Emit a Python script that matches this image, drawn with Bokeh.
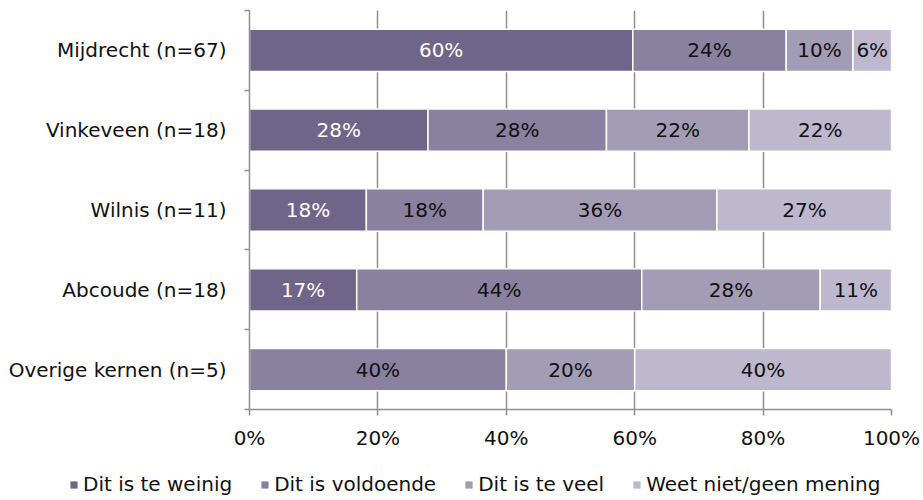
from bokeh.plotting import figure
from bokeh.layouts import column
from bokeh.models import ColumnDataSource, FixedTicker, Range1d, Legend, LegendItem
from bokeh.core.properties import value
from bokeh.embed import file_html
from bokeh.resources import INLINE

categories = ["Mijdrecht (n=67)", "Vinkeveen (n=18)", "Wilnis (n=11)", "Abcoude (n=18)", "Overige kernen (n=5)"]
series = ["Dit is te weinig", "Dit is voldoende", "Dit is te veel", "Weet niet/geen mening"]
te_weinig = [59.7, 27.8, 18.2, 16.7, 0.0]
voldoende = [23.9, 27.8, 18.2, 44.4, 40.0]
te_veel = [10.4, 22.2, 36.4, 27.8, 20.0]
weet_niet = [6.0, 22.2, 27.3, 11.1, 40.0]
x_ticks = [0, 20, 40, 60, 80, 100]
x_tick_labels = ["0%", "20%", "40%", "60%", "80%", "100%"]

colors = ["#6F6589", "#8A80A0", "#A29DB5", "#BDB8CD"]
label_colors = ["#FFFFFF", "#111111", "#111111", "#111111"]
FONT = "DejaVu Sans"
FS = "20px"
GRAY = "#8F8F8F"

n = len(categories)
ypos = [n - 0.5 - i for i in range(n)]
values = [te_weinig, voldoende, te_veel, weet_niet]
keys = ["s0", "s1", "s2", "s3"]

data = {"y": ypos}
for k, v in zip(keys, values):
    data[k] = v
source = ColumnDataSource(data)

p = figure(width=923, height=460, output_backend="svg", toolbar_location=None,
           x_range=Range1d(0, 100), y_range=Range1d(0, n),
           min_border_left=249, min_border_right=32, min_border_top=10, min_border_bottom=51)
p.outline_line_color = None
p.background_fill_color = "white"

renderers = p.hbar_stack(keys, y="y", height=0.53, source=source, color=colors,
                         line_color="white", line_width=1.5)

# labels
lx, ly, lt, lc = [], [], [], []
for i in range(n):
    left = 0.0
    for s in range(4):
        v = values[s][i]
        if v > 0:
            lx.append(left + v / 2)
            ly.append(ypos[i])
            lt.append(f"{round(v)}%")
            lc.append(label_colors[s])
        left += v
lsrc = ColumnDataSource(dict(x=lx, y=ly, t=lt, c=lc))
p.text(x="x", y="y", text="t", text_color="c", source=lsrc, text_align="center",
       text_baseline="middle", text_font=value(FONT), text_font_size=FS)

# x axis
p.xaxis.ticker = FixedTicker(ticks=x_ticks)
p.xaxis.major_label_overrides = {t: l for t, l in zip(x_ticks, x_tick_labels)}
p.xaxis.axis_line_color = GRAY
p.xaxis.axis_line_width = 1.5
p.xaxis.major_tick_line_color = GRAY
p.xaxis.major_tick_line_width = 1.5
p.xaxis.major_tick_out = 6
p.xaxis.major_tick_in = 0
p.xaxis.minor_tick_line_color = None
p.xaxis.major_label_standoff = 10
p.xaxis.major_label_text_font = FONT
p.xaxis.major_label_text_font_size = FS
p.xaxis.major_label_text_color = "#111111"

# y axis
p.yaxis.ticker = FixedTicker(ticks=ypos, minor_ticks=list(range(n + 1)))
p.yaxis.major_label_overrides = {y: c for y, c in zip(ypos, categories)}
p.yaxis.axis_line_color = GRAY
p.yaxis.axis_line_width = 1.5
p.yaxis.major_tick_line_color = None
p.yaxis.major_tick_out = 0
p.yaxis.major_tick_in = 0
p.yaxis.minor_tick_line_color = GRAY
p.yaxis.minor_tick_line_width = 1.5
p.yaxis.minor_tick_out = 5
p.yaxis.minor_tick_in = 0
p.yaxis.major_label_standoff = 18
p.yaxis.major_label_text_font = FONT
p.yaxis.major_label_text_font_size = FS
p.yaxis.major_label_text_color = "#111111"

p.xgrid.grid_line_color = GRAY
p.xgrid.grid_line_width = 1.5
p.ygrid.grid_line_color = None

# legend strip below the chart
p2 = figure(width=923, height=40, output_backend="svg", toolbar_location=None,
            x_range=Range1d(0, 1), y_range=Range1d(0, 1),
            x_axis_location=None, y_axis_location=None,
            min_border_left=0, min_border_right=0, min_border_top=0, min_border_bottom=0)
try:
    p2.frame_align = False
except Exception:
    pass
p2.outline_line_color = None
p2.xgrid.grid_line_color = None
p2.ygrid.grid_line_color = None
items = []
for s, c in zip(series, colors):
    # zero-size swatch carrier: draws nothing itself, only feeds the legend
    r = p2.hbar(y=[0.5], left=[0], right=[0], height=0, fill_color=c, line_color=None)
    items.append(LegendItem(label=s, renderers=[r]))
leg = Legend(items=items, orientation="horizontal", location=(69, 4))
leg.border_line_color = None
leg.background_fill_alpha = 0
leg.padding = 0
leg.margin = 0
leg.spacing = 28
leg.glyph_width = 9
leg.glyph_height = 9
leg.label_standoff = 5
leg.label_height = 20
leg.label_text_font = FONT
leg.label_text_font_size = FS
leg.label_text_color = "#111111"
p2.add_layout(leg, "center")

layout = column(p, p2, spacing=0)
open("out.html", "w").write(file_html(layout, INLINE))
